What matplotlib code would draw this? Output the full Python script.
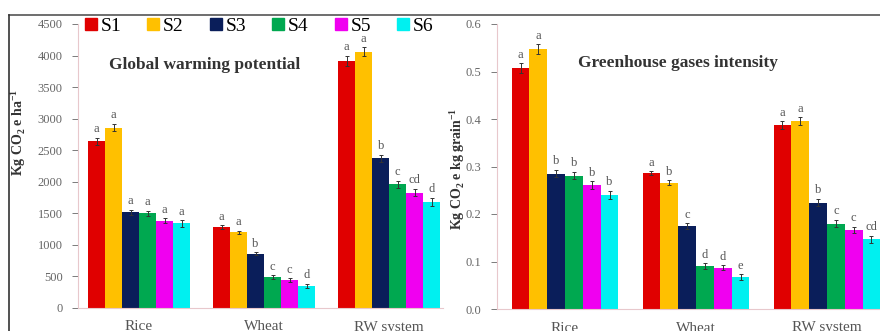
import numpy as np
import matplotlib.pyplot as plt
from matplotlib.lines import Line2D

# Data
crops = ["Rice", "Wheat", "RW system"]
scenarios = ["S1", "S2", "S3", "S4", "S5", "S6"]
colors = ["#E00000", "#FFC000", "#0A1E5A", "#00A850", "#F000F0", "#00F0F0"]

# Global warming potential (kg CO2 e ha-1), rows = scenarios
gwp = [
    [2640, 1280, 3920],
    [2860, 1200, 4060],
    [1520, 860, 2370],
    [1500, 490, 1960],
    [1380, 440, 1830],
    [1340, 350, 1680],
]
gwp_err = [
    [60, 30, 80],
    [60, 25, 70],
    [40, 25, 60],
    [40, 30, 60],
    [40, 30, 60],
    [50, 35, 70],
]
gwp_letters = [
    ["a", "a", "a"],
    ["a", "a", "a"],
    ["a", "b", "b"],
    ["a", "c", "c"],
    ["a", "c", "cd"],
    ["a", "d", "d"],
]

# Greenhouse gases intensity (kg CO2 e kg grain-1)
ghgi = [
    [0.507, 0.286, 0.388],
    [0.547, 0.266, 0.396],
    [0.285, 0.175, 0.224],
    [0.281, 0.090, 0.180],
    [0.261, 0.087, 0.166],
    [0.240, 0.067, 0.147],
]
ghgi_err = [
    [0.010, 0.004, 0.008],
    [0.010, 0.005, 0.008],
    [0.008, 0.006, 0.008],
    [0.008, 0.006, 0.008],
    [0.008, 0.005, 0.007],
    [0.009, 0.006, 0.007],
]
ghgi_letters = [
    ["a", "a", "a"],
    ["a", "b", "a"],
    ["b", "c", "b"],
    ["b", "d", "c"],
    ["b", "d", "c"],
    ["b", "e", "cd"],
]

plt.rcParams["font.family"] = ["Liberation Serif", "DejaVu Serif"]
plt.rcParams["mathtext.fontset"] = "custom"
plt.rcParams["mathtext.rm"] = "Liberation Serif:bold"
plt.rcParams["mathtext.bf"] = "Liberation Serif:bold"

fig = plt.figure(figsize=(8.8, 3.31), dpi=100)
W, H = 880, 331


def px_axes(x0, x1, y_top, y_bottom):
    return fig.add_axes([x0 / W, 1 - y_bottom / H, (x1 - x0) / W, (y_bottom - y_top) / H])


def draw_panel(ax, values, errors, letters, ymax, step, title, title_xy, ylabel, fmt, letter_pad):
    x = np.arange(len(crops))
    width = 0.136
    for i, sc in enumerate(scenarios):
        pos = x + (i - 2.5) * width
        ax.bar(pos, values[i], width, color=colors[i], label=sc, zorder=2)
        ax.errorbar(pos, values[i], yerr=errors[i], fmt="none", ecolor="#333333",
                    elinewidth=0.7, capsize=1.5, capthick=0.7, zorder=3)
        for p, v, e, t in zip(pos, values[i], errors[i], letters[i]):
            ax.text(p, v + e + letter_pad, t, ha="center", va="bottom",
                    fontsize=9, color="#555555")
    ax.set_ylim(0, ymax)
    ax.set_yticks(np.arange(0, ymax + step / 2, step))
    ax.yaxis.set_major_formatter(plt.FormatStrFormatter(fmt))
    ax.set_xticks(x)
    ax.set_xticklabels(crops, fontsize=11, color="#555555")
    ax.tick_params(axis="y", labelsize=9, colors="#666666", length=4, width=0.6, pad=7)
    ax.tick_params(axis="x", length=0, pad=9)
    for s in ["top", "right"]:
        ax.spines[s].set_visible(False)
    for s in ["left", "bottom"]:
        ax.spines[s].set_color("#E8C8CC")
        ax.spines[s].set_linewidth(0.8)
    ax.text(title_xy[0], title_xy[1], title, transform=ax.transAxes, ha="center", va="center",
            fontsize=12.5, fontweight="bold", color="#333333")
    ax.set_ylabel(ylabel, fontsize=10, fontweight="bold", color="#333333")


ax1 = px_axes(78, 443, 24, 308)
ax1.set_xlim(-0.488, 2.43)
draw_panel(ax1, gwp, gwp_err, gwp_letters, 4500, 500, "Global warming potential", (0.348, 0.856),
           r"Kg CO$_2$ e ha$^{-1}$", "%d", 40)
ax1.yaxis.set_label_coords(-50 / 365, 0.62)

ax2 = px_axes(497, 895, 24, 309)
ax2.set_xlim(-0.52, 2.52)
draw_panel(ax2, ghgi, ghgi_err, ghgi_letters, 0.6, 0.1, "Greenhouse gases intensity", (0.455, 0.863),
           r"Kg CO$_2$ e kg grain$^{-1}$", "%.1f", 0.005)
ax2.yaxis.set_label_coords(-30 / 398, 0.49)

# Legend across the top of the left panel
handles = [Line2D([], [], marker="s", linestyle="none", markersize=9,
                  markerfacecolor=c, markeredgecolor=c) for c in colors]
fig.legend(handles, scenarios, loc="upper left", bbox_to_anchor=(84 / W, 1 - 17 / H),
           ncol=6, frameon=False, fontsize=14, handlelength=0.7, handletextpad=0.15,
           columnspacing=1.3, borderaxespad=0, borderpad=0)

# Frame border lines (top and left)
fig.add_artist(Line2D([9 / W, 1], [1 - 15 / H, 1 - 15 / H], color="#555555", linewidth=1.2))
fig.add_artist(Line2D([9 / W, 9 / W], [0, 1 - 15 / H], color="#333333", linewidth=1.2))

plt.savefig("out.png", dpi=100)
